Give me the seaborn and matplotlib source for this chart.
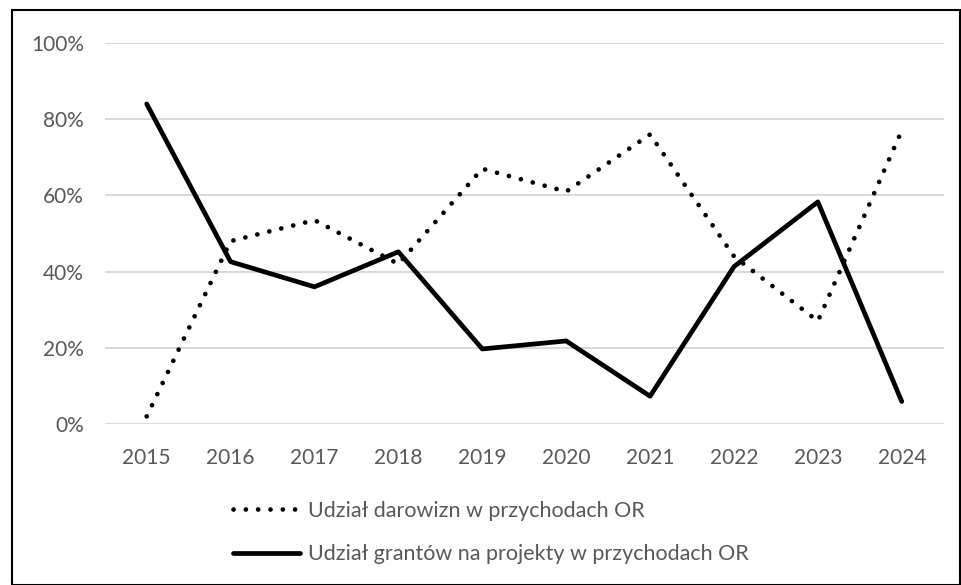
import numpy as np
import pandas as pd
import matplotlib
matplotlib.use('Agg')
import matplotlib.pyplot as plt
from matplotlib.patches import Rectangle
from matplotlib.ticker import PercentFormatter
import seaborn as sns

years = [2015, 2016, 2017, 2018, 2019, 2020, 2021, 2022, 2023, 2024]
darowizny = [0.02, 0.48, 0.535, 0.42, 0.67, 0.61, 0.76, 0.44, 0.27, 0.77]
granty = [0.84, 0.426, 0.36, 0.452, 0.197, 0.218, 0.073, 0.413, 0.583, 0.059]
labels = ['Udział darowizn w przychodach OR',
          'Udział grantów na projekty w przychodach OR']

df = pd.DataFrame({'rok': [str(y) for y in years], 'darowizny': darowizny, 'granty': granty})

sns.set_style('white')
plt.rcParams['font.family'] = ['Lato', 'DejaVu Sans']

fig = plt.figure(figsize=(9.61, 5.85), dpi=100)
ax = fig.add_axes([0.109, 0.2752, 0.873, 0.6513])

sns.lineplot(data=df, x='rok', y='darowizny', ax=ax, color='black', linewidth=3.4,
             linestyle=(0, (0.01, 2.6)), dash_capstyle='round', label=labels[0], sort=False)
sns.lineplot(data=df, x='rok', y='granty', ax=ax, color='black', linewidth=3.4,
             solid_capstyle='butt', label=labels[1], sort=False)

ax.set_ylim(0, 1)
ax.set_xlim(-0.5, len(years) - 0.5)
ax.set_yticks(np.arange(0, 1.01, 0.2))
ax.yaxis.set_major_formatter(PercentFormatter(1.0, decimals=0))
ax.grid(axis='y', color='#d9d9d9', linewidth=1.5)
ax.set_axisbelow(True)
for s in ax.spines.values():
    s.set_visible(False)
ax.set_xlabel('')
ax.set_ylabel('')
ax.tick_params(axis='x', pad=17, labelsize=15, labelcolor='#595959', length=0)
ax.tick_params(axis='y', pad=15, labelsize=15, labelcolor='#595959', length=0)

handles, labs = ax.get_legend_handles_labels()
ax.get_legend().remove()
handles[1].set_solid_capstyle('round')
fig.legend(handles, labs, loc='upper left', bbox_to_anchor=(0.2425, 0.1436), frameon=False,
           fontsize=15.5, labelcolor='#595959', handlelength=3.1, handletextpad=0.37,
           labelspacing=1.09, borderpad=0, borderaxespad=0)

# ramka wykresu
fig.patches.append(Rectangle((12 / 961, 0), 1 - 12 / 961 - 0.001, 1 - 10 / 585, transform=fig.transFigure,
                             fill=False, edgecolor='black', linewidth=1.5))

plt.savefig('out.png', dpi=100)
plt.close()
